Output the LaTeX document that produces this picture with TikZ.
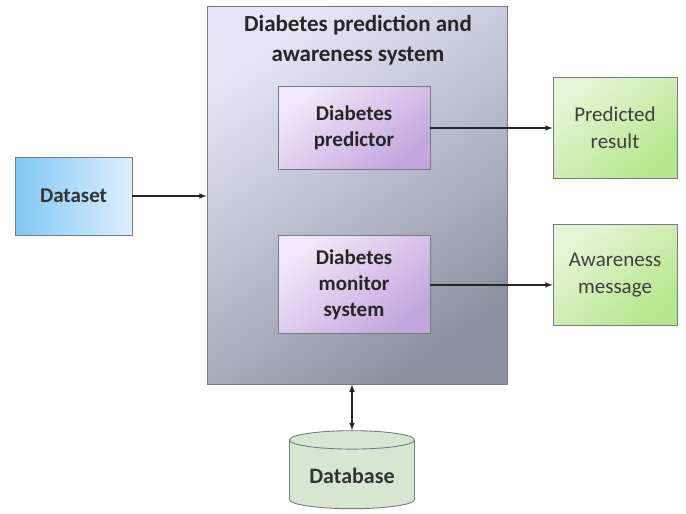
\documentclass[tikz,border=0pt]{standalone}
\usepackage{fontspec}
\setmainfont{Carlito}
\usetikzlibrary{positioning,shapes,arrows}
\definecolor{sysLight}{RGB}{228,230,245}
\definecolor{sysDark}{RGB}{140,145,162}
\definecolor{modLight}{RGB}{240,232,248}
\definecolor{modDark}{RGB}{196,166,222}
\definecolor{dataDark}{RGB}{128,200,244}
\definecolor{dataLight}{RGB}{222,238,252}
\definecolor{outLight}{RGB}{230,245,215}
\definecolor{outDark}{RGB}{182,230,140}
\definecolor{dbFill}{RGB}{214,230,208}
\definecolor{edge}{RGB}{120,122,132}
\tikzstyle{block}=[rectangle, draw=edge, line width=0.9pt, align=center, inner sep=2pt,
        font=\fontsize{21}{27}\selectfont]
\tikzstyle{system}=[block, top color=sysLight, bottom color=sysDark, shading angle=35,
        minimum width=300pt, minimum height=378pt]
\tikzstyle{module}=[block, top color=modLight, bottom color=modDark, shading angle=40,
        minimum width=152pt, font=\fontsize{21}{26}\selectfont\bfseries, text=black!85]
\tikzstyle{output}=[block, top color=outLight, bottom color=outDark, shading angle=40,
        minimum width=124pt, minimum height=101pt, text=black!75]
\tikzstyle{link}=[line width=1.5pt, black!85, -latex]

\begin{document}
\begin{tikzpicture}[x=1pt, y=-1pt]
        \useasboundingbox (0,0) rectangle (686,514);
        \node (System) [system] at (357,195) {};
        \node (Title) [font=\fontsize{23}{30}\selectfont\bfseries, align=center, text=black!85]
          at (358,40) {Diabetes prediction and\\awareness system};
        \node (Predictor) [module, minimum height=83pt] at (354,128) {Diabetes\\predictor};
        \node (Monitor) [module, minimum height=98pt, below=65.5pt of Predictor]
          {Diabetes\\monitor\\system};
        \node (Dataset) [block, left color=dataDark, right color=dataLight,
          minimum width=117pt, minimum height=78pt, font=\fontsize{21}{26}\selectfont\bfseries,
          text=black!80] at (73.5,196) {Dataset};
        \node (Result) [output] at (615,127.5) {Predicted\\result};
        \node (Message) [output, below=46pt of Result] {Awareness\\message};
        \node (Database) [cylinder, shape border rotate=90, aspect=0.2, draw=edge,
          line width=0.9pt, fill=dbFill, minimum width=125pt, minimum height=78pt,
          font=\fontsize{22}{26}\selectfont\bfseries, text=black!80] at (352,476) {Database};

        \draw[link] (Dataset) -- (Dataset -| System.west);
        \draw[link] (Predictor.east) -- (Predictor.east -| Result.west);
        \draw[link] (Monitor.east) -- (Monitor.east -| Message.west);
        \draw[link, latex-latex] (Database.north) -- (Database.north |- System.south);
      \end{tikzpicture}
\end{document}
